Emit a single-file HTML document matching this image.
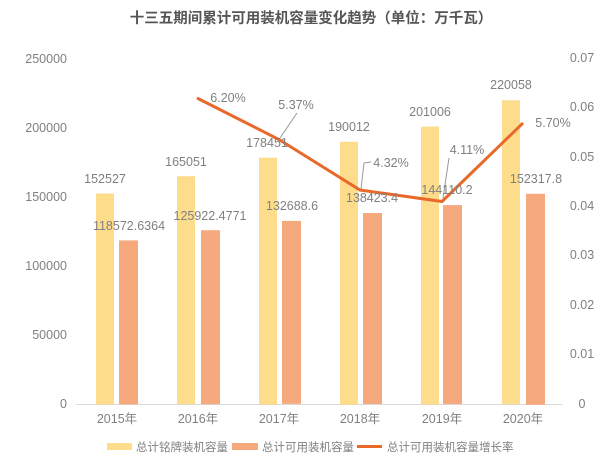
<!DOCTYPE html>
<html><head><meta charset="utf-8"><style>
body{margin:0;background:#fff}
svg text{font-family:"Liberation Sans","Noto Sans CJK SC",sans-serif;fill:#808080;font-size:12.5px}
</style></head><body>
<svg width="611" height="462" viewBox="0 0 611 462" xmlns="http://www.w3.org/2000/svg">
<text x="311" y="23" text-anchor="middle" style="font-size:14.5px;font-weight:bold;fill:#555">十三五期间累计可用装机容量变化趋势（单位：万千瓦）</text>
<g text-anchor="end">
<text x="67" y="63">250000</text><text x="67" y="132">200000</text><text x="67" y="201">150000</text>
<text x="67" y="270">100000</text><text x="67" y="339">50000</text><text x="67" y="408">0</text>
</g>
<g text-anchor="middle">
<text x="582" y="62">0.07</text><text x="582" y="111">0.06</text><text x="582" y="161">0.05</text>
<text x="582" y="210">0.04</text><text x="582" y="259">0.03</text><text x="582" y="309">0.02</text>
<text x="582" y="358">0.01</text><text x="582" y="408">0</text>
</g>
<line x1="76" y1="404.5" x2="562" y2="404.5" stroke="#d9d9d9"/>
<g fill="#fddc8c">
<rect x="96" y="193.5" width="18" height="211"/>
<rect x="177" y="176.2" width="18" height="228"/>
<rect x="259" y="157.7" width="18" height="247"/>
<rect x="340" y="141.8" width="18" height="263"/>
<rect x="421" y="126.6" width="18" height="278"/>
<rect x="502" y="100.3" width="18" height="304"/>
</g>
<g fill="#f5a97c">
<rect x="119" y="240.4" width="19" height="164"/>
<rect x="201" y="230.2" width="19" height="174"/>
<rect x="282" y="220.9" width="19" height="183"/>
<rect x="363" y="213" width="19" height="191"/>
<rect x="443" y="205.1" width="19" height="199"/>
<rect x="526" y="193.8" width="19" height="211"/>
</g>
<polyline points="197,98 279,139.5 360,190 442,201.5 523,123" fill="none" stroke="#e8692a" stroke-width="3"/>
<g stroke="#999" stroke-width="1" fill="none">
<line x1="297" y1="113" x2="280" y2="138"/>
<polyline points="371,162 364,163 361,189"/>
<line x1="449" y1="158" x2="443" y2="198"/>
</g>
<g text-anchor="middle">
<text x="105" y="183">152527</text><text x="186" y="166">165051</text><text x="267" y="147">178451</text>
<text x="349" y="131">190012</text><text x="430" y="116">201006</text><text x="511" y="89">220058</text>
<text x="129" y="230">118572.6364</text><text x="210" y="220">125922.4771</text><text x="292" y="210">132688.6</text>
<text x="372" y="202">138423.4</text><text x="447" y="194">144110.2</text><text x="536" y="183">152317.8</text>
<text x="228" y="102">6.20%</text><text x="296" y="109">5.37%</text><text x="391" y="167">4.32%</text>
<text x="467" y="154">4.11%</text><text x="553" y="127">5.70%</text>
<text x="117" y="423">2015年</text><text x="198" y="423">2016年</text><text x="279" y="423">2017年</text>
<text x="360" y="423">2018年</text><text x="442" y="423">2019年</text><text x="523" y="423">2020年</text>
</g>
<g style="font-size:11.5px">
<rect x="107" y="443" width="25" height="7" fill="#fddc8c"/>
<text x="136" y="451" style="font-size:11.5px">总计铭牌装机容量</text>
<rect x="232" y="443" width="26" height="7" fill="#f5a97c"/>
<text x="262" y="451" style="font-size:11.5px">总计可用装机容量</text>
<line x1="357" y1="446.5" x2="382" y2="446.5" stroke="#e8692a" stroke-width="3"/>
<text x="387" y="451" style="font-size:11.5px">总计可用装机容量增长率</text>
</g>
</svg>
</body></html>
